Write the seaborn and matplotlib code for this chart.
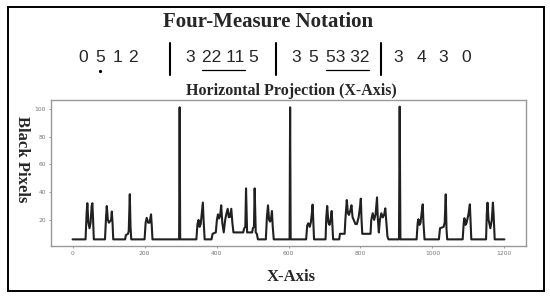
import numpy as np
import pandas as pd
import matplotlib
matplotlib.use("Agg")
import matplotlib.pyplot as plt
from matplotlib.lines import Line2D
from matplotlib.patches import Rectangle
import seaborn as sns

# projection profile vertices (column position, black pixel count)
col_pos = [0, 36, 39, 41, 44, 47, 50, 53, 55, 57, 59,
           90, 93, 95, 98, 101, 104, 107, 109, 111, 113,
           146, 148, 154, 156, 159, 161, 163,
           200, 203, 206, 210, 214, 218, 220, 222,
           296, 297.5, 299,
           344, 347, 350, 353, 356, 359, 362, 364, 367,
           386, 389, 398, 401, 404, 407, 410, 413, 416, 420, 424, 427, 431, 434, 437, 441, 444, 447,
           474, 477, 480, 482, 485, 499, 501, 504, 506, 509, 512, 515,
           537, 540, 543, 546, 549, 552, 554, 556, 559,
           603, 604.5, 606,
           649, 652, 655, 659, 662, 665, 667, 669, 671,
           703, 705, 707.5, 711, 714, 717, 720, 722, 724,
           741, 743, 756, 758, 762, 765, 768, 772, 775, 778, 783, 786, 790, 795, 799, 801, 803, 805,
           828, 830, 834, 838, 842, 846, 848, 851, 854, 858, 862, 866, 869, 872, 875, 878,
           907, 909, 911,
           956, 959, 961, 964, 967, 970, 973, 975, 978,
           1018, 1021, 1031, 1034, 1037, 1039, 1041,
           1084, 1087, 1089, 1092, 1095, 1100, 1104, 1106, 1108,
           1149, 1151, 1153, 1156, 1161, 1165, 1168, 1170, 1173, 1200]
black_px = [6, 6, 25, 32, 18, 14, 18, 30, 32, 20, 6,
            6, 22, 30, 20, 18, 19, 20, 26, 18, 6,
            6, 9, 10, 12, 38.5, 15, 6,
            6, 18, 21.5, 18, 18, 24, 16, 6,
            6, 101, 6,
            6, 17, 20, 15, 17, 25, 32.5, 20, 6,
            6, 10, 11, 20, 24, 21, 23, 30.5, 18, 11, 20, 24, 28, 22, 22, 28, 18, 11,
            11, 14, 15, 42.7, 11, 11, 14, 15, 42.7, 11, 10, 6,
            6, 22, 30.5, 20, 18.8, 22, 26.4, 16, 6,
            6, 101, 6,
            6, 16, 17.6, 15, 18, 25, 31, 18, 6,
            6, 22, 30, 18, 16.4, 20, 26.4, 16, 6,
            6, 10, 10, 20, 34.3, 25, 23.6, 27, 30.5, 22, 18.8, 17, 17, 22, 30, 35.3, 20, 10,
            10, 20, 24.8, 20, 24, 36.2, 22, 11, 20, 24.8, 21.8, 24, 28.3, 18, 8, 6,
            6, 101.5, 6,
            6, 18, 20.5, 16.4, 18, 25, 31.2, 18, 6,
            6, 14, 15, 18, 38.4, 14, 6,
            6, 18, 21.2, 16.4, 18, 24, 31.2, 18, 6,
            6, 24, 32.4, 20, 14, 20, 32.4, 24, 6, 6]

x_ticks = [0, 200, 400, 600, 800, 1000, 1200]
y_ticks = [20, 40, 60, 80, 100]

# numbered notation, four measures
notes = ["0", "5", "1", "2", "3", "22 11", "5", "3", "5", "53 32", "3", "4", "3", "0"]
note_x = [83.5, 100.5, 117, 133, 190, 223.5, 253.5, 296.5, 313.5, 347.5, 398.5, 421.5, 443.5, 466]
underlined = ["22 11", "53 32"]
bar_x = [170, 276, 381]

W, H = 550, 299


def fx(x):
    return x / W


def fy(y):
    return 1 - y / H


sns.set_theme(style="ticks")
fig = plt.figure(figsize=(5.5, 2.99), dpi=100)
ax = fig.add_axes([fx(51), fy(246), fx(526) - fx(51), fy(100) - fy(246)])

df = pd.DataFrame({"col": col_pos, "px": black_px})
sns.lineplot(data=df, x="col", y="px", ax=ax, estimator=None, sort=False,
             color="#202020", lw=1.5)

ax.set_xticks(x_ticks)
ax.set_yticks(y_ticks)
ax.tick_params(labelsize=4.3, colors="#777777", length=1.5, width=0.5, pad=2)
for s in ax.spines.values():
    s.set_color("#999999")
    s.set_linewidth(1.0)
ax.set_xlabel("")
ax.set_ylabel("")

serif = ["Liberation Serif", "DejaVu Serif"]
sans = ["Liberation Sans", "DejaVu Sans"]

fig.text(fx(268), fy(22), "Four-Measure Notation", ha="center", va="center",
         family=serif, weight="bold", fontsize=15)
fig.text(fx(291), fy(91), "Horizontal Projection (X-Axis)", ha="center", va="center",
         family=serif, weight="bold", fontsize=11.5)
fig.text(fx(22), fy(159), "Black Pixels", ha="center", va="center", rotation=-90,
         family=serif, weight="bold", fontsize=12)
fig.text(fx(291), fy(277), "X-Axis", ha="center", va="center",
         family=serif, weight="bold", fontsize=12)

for n, x in zip(notes, note_x):
    fig.text(fx(x), fy(57.5), n, ha="center", va="center", family=sans, fontsize=12.5)
    if n in underlined:
        half = len(n) * 4.3
        fig.add_artist(Line2D([fx(x - half), fx(x + half)], [fy(69.5), fy(69.5)],
                              color="black", lw=0.9))

# dot under the low 5
fig.add_artist(Line2D([fx(100)], [fy(71)], marker="o", ms=1.3, color="black", lw=0))

for bx in bar_x:
    fig.add_artist(Line2D([fx(bx), fx(bx)], [fy(43), fy(75)], color="black", lw=1.5))

fig.add_artist(Rectangle((fx(8), fy(291)), fx(544) - fx(8), fy(7) - fy(291),
                         transform=fig.transFigure, fill=False, ec="black", lw=1.4))

fig.savefig("out.png", dpi=100)
